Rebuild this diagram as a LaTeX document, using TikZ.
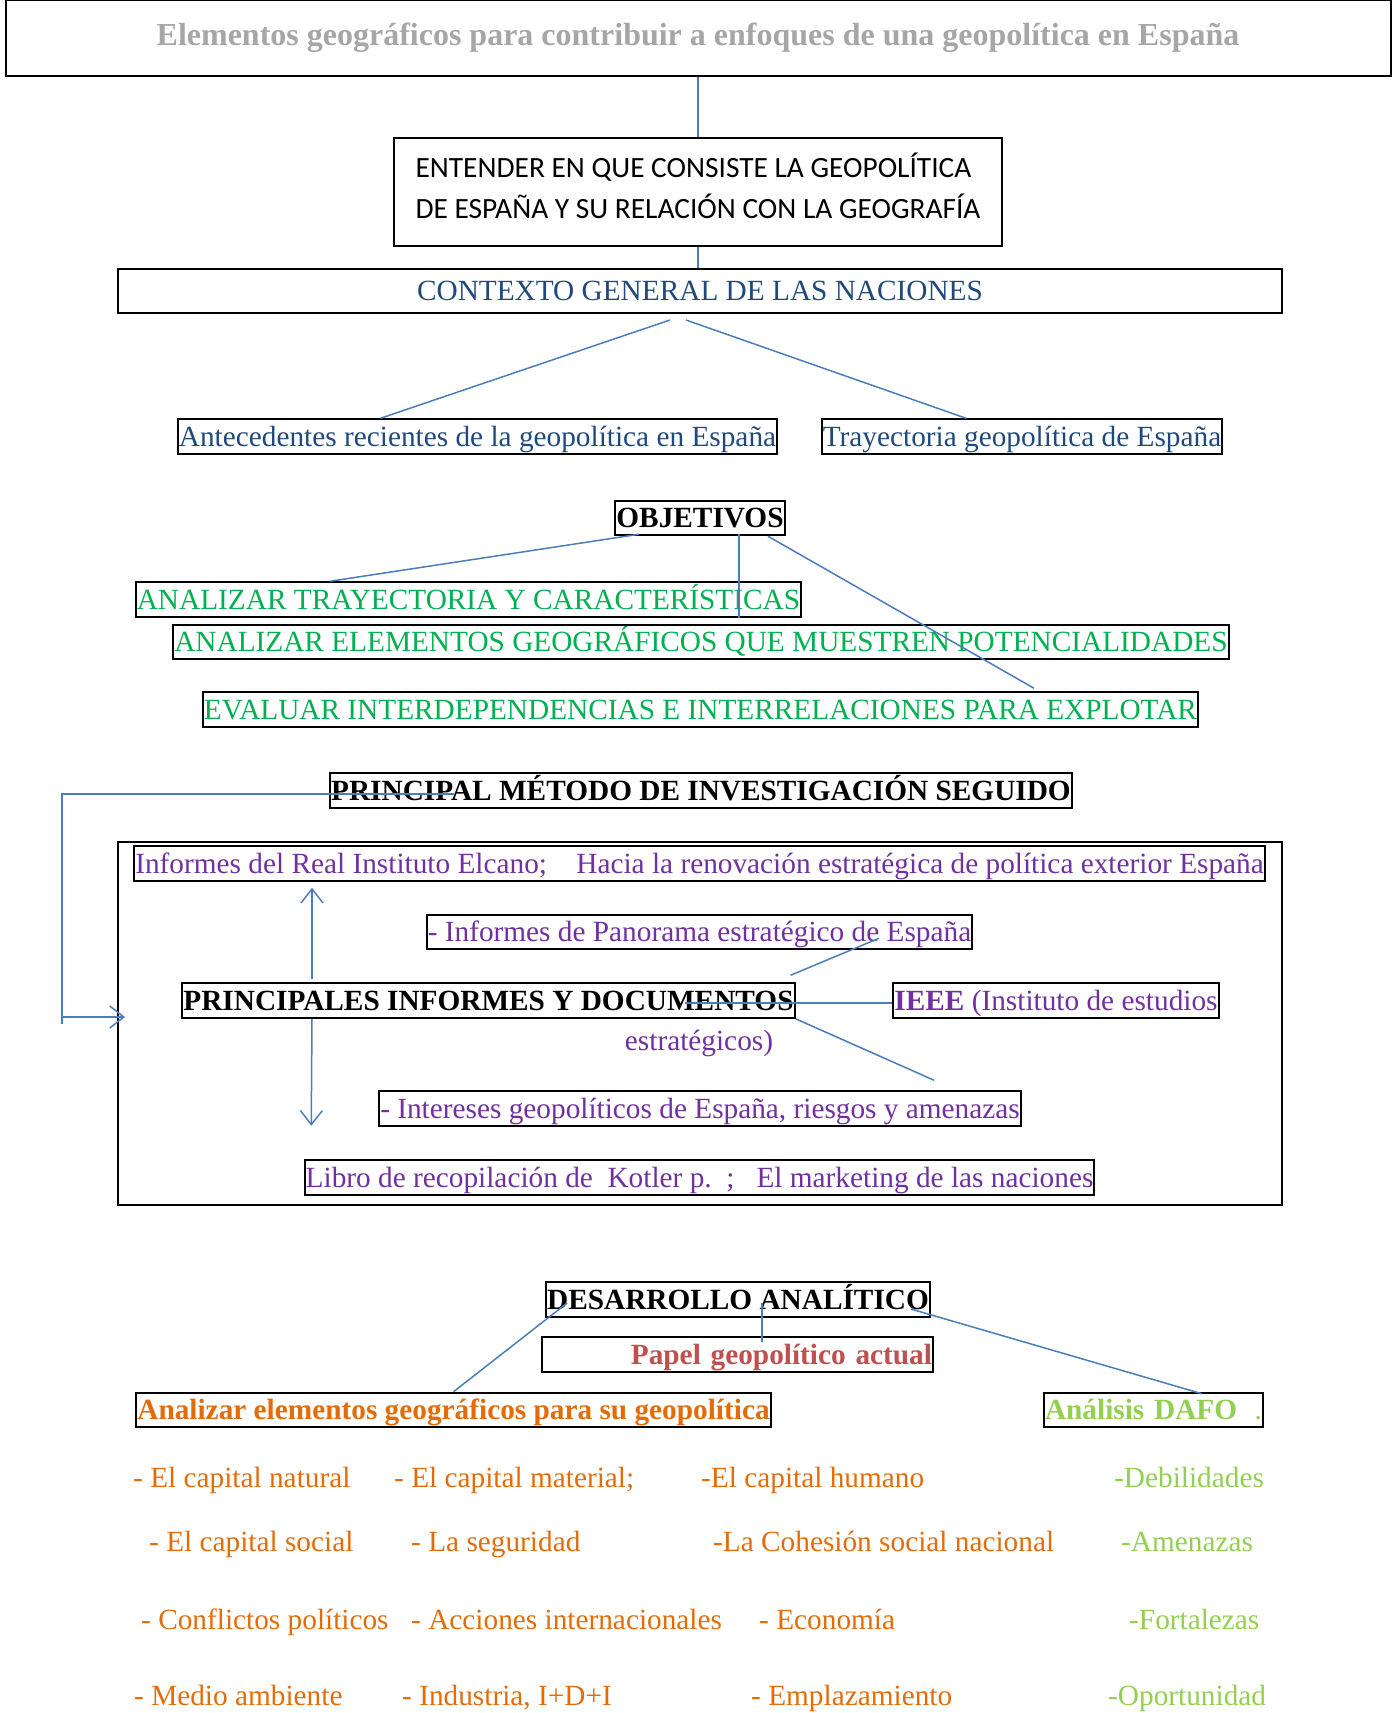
\documentclass[tikz,border=0pt]{standalone}
\usepackage{fontspec}
\setmainfont{Liberation Serif}
\newfontfamily\calfont{Carlito}
\usetikzlibrary{calc}
\usetikzlibrary{arrows.meta}
\usepackage{xcolor}
\definecolor{gristitulo}{HTML}{A6A6A6}
\definecolor{azulosc}{HTML}{1F497D}
\definecolor{verdeobj}{HTML}{00B050}
\definecolor{morado}{HTML}{7030A0}
\definecolor{rojopapel}{HTML}{C0504D}
\definecolor{naranja}{HTML}{E36C09}
\definecolor{verdeclaro}{HTML}{92D050}
\definecolor{azullinea}{HTML}{4A7EBB}
\newcommand\tam{\fontsize{29.3}{34}\selectfont}

\begin{document}
\begin{tikzpicture}[x=1pt,y=-1pt,
  every node/.style={font=\tam},
  caja/.style={draw, line width=2pt, inner sep=1pt, text height=26pt, text depth=6.5pt},
  enlace/.style={azullinea, line width=1.5pt},
  flecha/.style={enlace, -{Straight Barb[length=14pt,width=22pt]}}]
\useasboundingbox (0,0) rectangle (1397,1713);

\node[draw, line width=2pt, minimum width=1385pt, minimum height=76pt, text=gristitulo, font=\fontsize{32}{36}\selectfont\bfseries] (titulo) at (698,38) {Elementos geográficos para contribuir a enfoques de una geopolítica en España};
\node[draw, line width=2pt, minimum width=608pt, minimum height=108pt, text depth=13pt, align=left, font=\calfont\fontsize{29.4}{41.5}\selectfont] (entender) at (698,192) {ENTENDER EN QUE CONSISTE LA GEOPOLÍTICA\\DE ESPAÑA Y SU RELACIÓN CON LA GEOGRAFÍA};
\node[draw, line width=2pt, minimum width=1164pt, minimum height=44pt, text=azulosc] (contexto) at (700,291) {CONTEXTO GENERAL DE LAS NACIONES};
\node[caja, text=azulosc] (antecedentes) at (477.5,436.5) {Antecedentes recientes de la geopolítica en España};
\node[caja, text=azulosc] (trayectoria) at (1022,436.5) {Trayectoria geopolítica de España};

\draw[enlace] (titulo.south) -- (entender.north);
\draw[enlace] (entender.south) -- (entender.south |- contexto.north);
\draw[enlace] ($(contexto.south)+(-30,6)$) -- ($(antecedentes.north)+(-97,0)$);
\draw[enlace] ($(contexto.south)+(-14,6)$) -- ($(trayectoria.north)+(-56,0)$);

\node[caja, font=\tam\bfseries] (objetivos) at (700,518) {OBJETIVOS};
\node[caja, text=verdeobj] (obj1) at (468.5,599.5) {ANALIZAR TRAYECTORIA Y CARACTERÍSTICAS};
\node[caja, text=verdeobj] (obj2) at (701,642) {ANALIZAR ELEMENTOS GEOGRÁFICOS QUE MUESTREN POTENCIALIDADES};
\node[caja, text=verdeobj] (obj3) at (700.5,709.5) {EVALUAR INTERDEPENDENCIAS E INTERRELACIONES PARA EXPLOTAR};

\coordinate (objv) at ($(objetivos.south)+(39,-2)$);
\draw[enlace] ($(objetivos.south)+(-61,-2)$) -- ($(obj1.north)+(-138.5,0)$);
\draw[enlace] (objv) -- (objv |- obj1.south);
\draw[enlace] ($(objetivos.south)+(68,0)$) -- ($(obj3.north)+(333.5,-3)$);

\node[caja, font=\tam\bfseries] (metodo) at (701,790.5) {PRINCIPAL MÉTODO DE INVESTIGACIÓN SEGUIDO};
\node[draw, line width=2pt, minimum width=1164pt, minimum height=363pt] (marco) at (700,1023.5) {};
\node[caja, text=morado] (elcano) at (699.5,863.5) {Informes del Real Instituto Elcano;\quad Hacia la renovación estratégica de política exterior España};
\node[caja, text=morado] (panorama) at (699.5,932) {- Informes de Panorama estratégico de España};
\node[caja, font=\tam\bfseries] (principales) at (488.5,1000.5) {PRINCIPALES INFORMES Y DOCUMENTOS};
\node[caja, text=morado] (ieee) at (1056,1000.5) {\textbf{IEEE} (Instituto de estudios};
\node[text=morado] (estrat) at (699,1043) {estratégicos)};
\node[caja, text=morado] (intereses) at (700,1108.5) {- Intereses geopolíticos de España, riesgos y amenazas};
\node[caja, text=morado] (kotler) at (699.5,1177.5) {Libro de recopilación de\ \ Kotler p.\ \ ;\ \ \ El marketing de las naciones};

\draw[enlace] ($(metodo.west)+(125,3.5)$) -| (marco.west -| 62,0);
\draw[flecha] ($(marco.west)+(-56,-6.5)$) -- ($(marco.west)+(8,-6.5)$);
\draw[flecha] ($(principales.north)+(-176.5,-3)$) -- ($(elcano.south)+(-387.5,6)$);
\draw[flecha] ($(principales.south)+(-176.5,0)$) -- ($(intereses.south west)+(-67,-1)$);
\draw[enlace] ($(principales.north east)+(-5,-7)$) -- ($(panorama.south)+(179.5,-12)$);
\draw[enlace] ($(principales.east)+(-111,2.5)$) -- ($(ieee.west)+(0,2.5)$);
\draw[enlace] (principales.south east) -- ($(intereses.north)+(234,-10)$);

\node[caja, font=\tam\bfseries] (desarrollo) at (738,1299.5) {DESARROLLO ANALÍTICO};
\node[caja, text width=389pt, align=right, text=rojopapel, font=\tam\bfseries] (papel) at (737.5,1354.5) {Papel geopolítico actual};
\node[caja, text=naranja, font=\tam\bfseries] (analizar) at (453.5,1410) {Analizar elementos geográficos para su geopolítica};
\node[caja, text width=217pt, align=left, text=verdeclaro] (dafo) at (1153.5,1410) {\textbf{Análisis DAFO}\hfill.};

\draw[enlace] ($(desarrollo.west)+(22,3.5)$) -- (analizar.north);
\draw[enlace] ($(desarrollo.center)+(24,3.5)$) -- ($(papel.north)+(24.5,6)$);
\draw[enlace] ($(desarrollo.east)+(-20,9.5)$) -- ($(dafo.north)+(48.5,2)$);

\foreach \x/\y/\t [count=\i] in {133/1487/{- El capital natural}, 394/1487/{- El capital material;}, 701/1487/{-El capital humano},
  149/1551/{- El capital social}, 411/1551/{- La seguridad}, 713/1551/{-La Cohesión social nacional},
  141/1629/{- Conflictos políticos}, 411/1629/{- Acciones internacionales}, 759/1629/{- Economía},
  134/1705/{- Medio ambiente}, 402/1705/{- Industria, I+D+I}, 751/1705/{- Emplazamiento}}
  \node[anchor=base west, inner sep=0pt, text=naranja] (capital\i) at (\x,\y) {\t};
\foreach \x/\y/\t [count=\i] in {1114/1487/-Debilidades, 1121/1551/-Amenazas, 1129/1629/-Fortalezas, 1108/1705/-Oportunidad}
  \node[anchor=base west, inner sep=0pt, text=verdeclaro] (dafo\i) at (\x,\y) {\t};
\end{tikzpicture}
\end{document}
